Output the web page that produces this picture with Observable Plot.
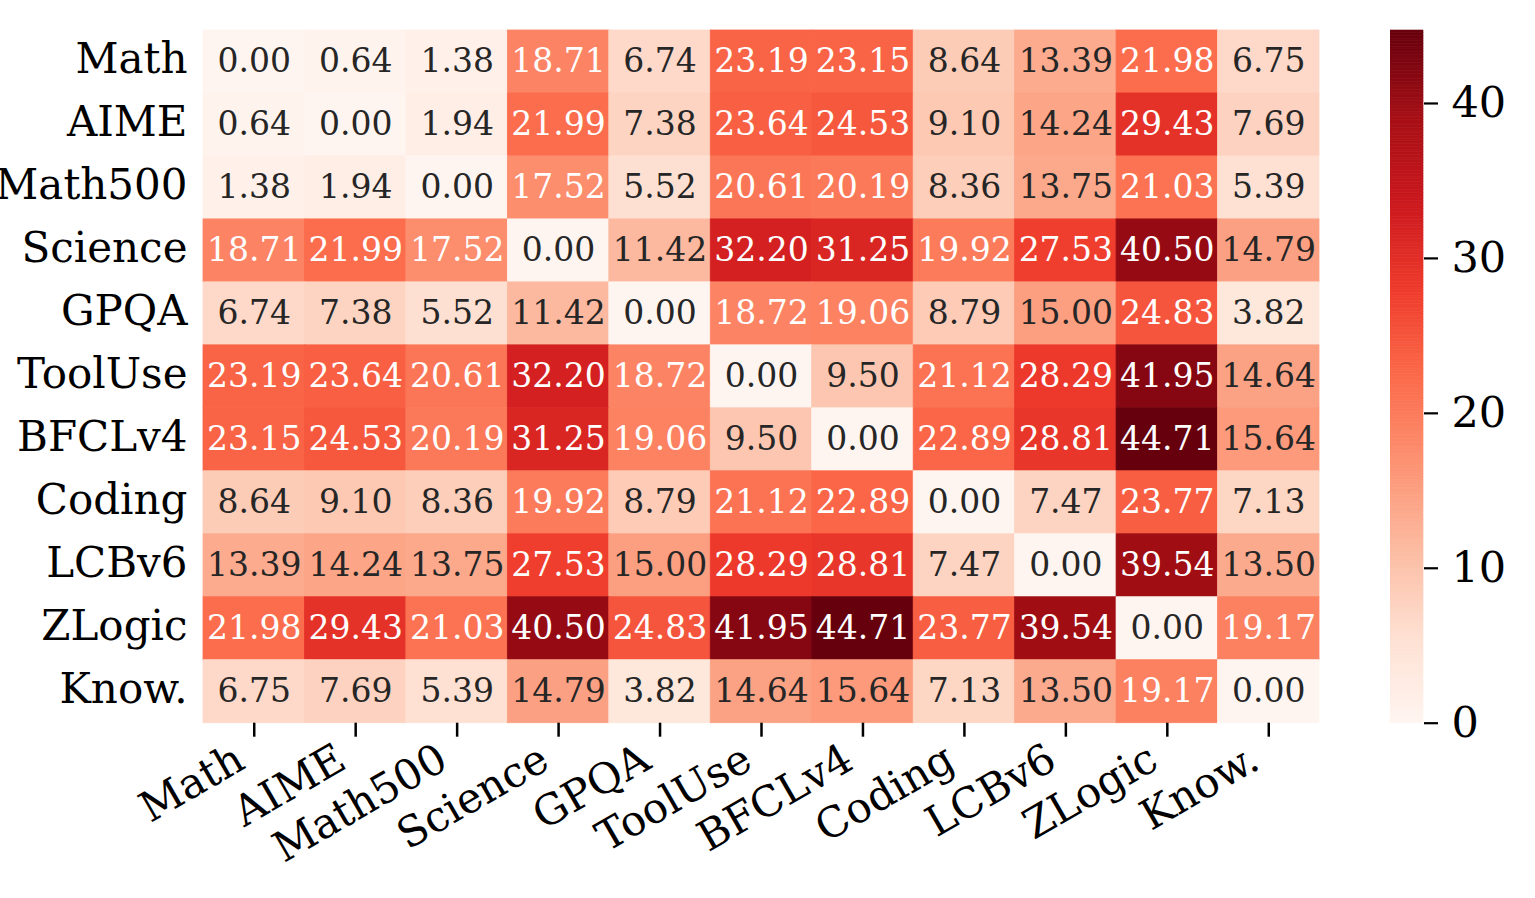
<!DOCTYPE html>
<html>
<head>
<meta charset="utf-8">
<script src="https://cdn.jsdelivr.net/npm/d3@7"></script>
<script src="https://cdn.jsdelivr.net/npm/@observablehq/plot@0.6"></script>
<style>
  body { margin: 0; background: #fff; }
  #wrap { position: relative; width: 1535px; height: 898px; overflow: hidden; }
  #heat, #cbar { position: absolute; top: 0; }
  #heat { left: 0; }
  #cbar { left: 1390px; }
</style>
</head>
<body>
<div id="wrap"><div id="heat"></div><div id="cbar"></div></div>
<script>
// ---- data ----
const categories = ["Math", "AIME", "Math500", "Science", "GPQA", "ToolUse", "BFCLv4", "Coding", "LCBv6", "ZLogic", "Know."];
const rowMath    = [0.00, 0.64, 1.38, 18.71, 6.74, 23.19, 23.15, 8.64, 13.39, 21.98, 6.75];
const rowAIME    = [0.64, 0.00, 1.94, 21.99, 7.38, 23.64, 24.53, 9.10, 14.24, 29.43, 7.69];
const rowMath500 = [1.38, 1.94, 0.00, 17.52, 5.52, 20.61, 20.19, 8.36, 13.75, 21.03, 5.39];
const rowScience = [18.71, 21.99, 17.52, 0.00, 11.42, 32.20, 31.25, 19.92, 27.53, 40.50, 14.79];
const rowGPQA    = [6.74, 7.38, 5.52, 11.42, 0.00, 18.72, 19.06, 8.79, 15.00, 24.83, 3.82];
const rowToolUse = [23.19, 23.64, 20.61, 32.20, 18.72, 0.00, 9.50, 21.12, 28.29, 41.95, 14.64];
const rowBFCLv4  = [23.15, 24.53, 20.19, 31.25, 19.06, 9.50, 0.00, 22.89, 28.81, 44.71, 15.64];
const rowCoding  = [8.64, 9.10, 8.36, 19.92, 8.79, 21.12, 22.89, 0.00, 7.47, 23.77, 7.13];
const rowLCBv6   = [13.39, 14.24, 13.75, 27.53, 15.00, 28.29, 28.81, 7.47, 0.00, 39.54, 13.50];
const rowZLogic  = [21.98, 29.43, 21.03, 40.50, 24.83, 41.95, 44.71, 23.77, 39.54, 0.00, 19.17];
const rowKnow    = [6.75, 7.69, 5.39, 14.79, 3.82, 14.64, 15.64, 7.13, 13.50, 19.17, 0.00];
const colorbarTicks = [0, 10, 20, 30, 40];

const matrix = [rowMath, rowAIME, rowMath500, rowScience, rowGPQA, rowToolUse, rowBFCLv4, rowCoding, rowLCBv6, rowZLogic, rowKnow];
const cells = [];
matrix.forEach((row, i) => row.forEach((v, j) => cells.push({row: categories[i], col: categories[j], value: v})));

const vmin = 0;
const vmax = d3.max(cells, d => d.value);

// matplotlib "Reds" (ColorBrewer 9-class, linear segments)
const reds = ["#fff5f0", "#fee0d2", "#fcbba1", "#fc9272", "#fb6a4a", "#ef3b2c", "#cb181d", "#a50f15", "#67000d"];
const stops = reds.map((_, i) => vmin + (vmax - vmin) * i / (reds.length - 1));
const colorScale = {type: "linear", domain: stops, range: reds, interpolate: "rgb"};

// float colormap with matplotlib-like 256-entry lookup, used to pick annotation colour
const redsFloat = reds.map(c => { const r = d3.rgb(c); return [r.r / 255, r.g / 255, r.b / 255]; });
const cmapFloat = d3.scaleLinear().domain(reds.map((_, i) => i / (reds.length - 1))).range(redsFloat).clamp(true);
function lutColor(v) {
  const x = (v - vmin) / (vmax - vmin);
  const idx = Math.min(255, Math.max(0, Math.floor(x * 256)));
  return cmapFloat(idx / 255);
}
function relLum(rgb) {
  const f = v => v <= 0.03928 ? v / 12.92 : Math.pow((v + 0.055) / 1.055, 2.4);
  return 0.2126 * f(rgb[0]) + 0.7152 * f(rgb[1]) + 0.0722 * f(rgb[2]);
}
const textColor = d => relLum(lutColor(d.value)) > 0.408 ? "#262626" : "#ffffff";

const FONT = "DejaVu Serif";
const frameTop = 30, frameBottom = 722.7, frameLeft = 203, frameRight = 1319;

const heat = Plot.plot({
  width: 1535,
  height: 898,
  marginLeft: frameLeft,
  marginRight: 1535 - frameRight,
  marginTop: frameTop,
  marginBottom: 898 - frameBottom,
  style: {fontFamily: FONT, background: "#fff", color: "#000"},
  x: {domain: categories, padding: 0, round: false, axis: null},
  y: {domain: categories, padding: 0, round: false, axis: null},
  color: colorScale,
  marks: [
    Plot.cell(cells, {x: "col", y: "row", fill: "value", stroke: "value", strokeWidth: 0.8, inset: 0}),
    Plot.text(cells, {x: "col", y: "row", text: d => d.value.toFixed(2), fill: textColor, fontSize: 33, fontFamily: FONT, dy: -0.5}),
    Plot.axisY({tickSize: 0, tickPadding: 16, fontSize: 42, fontFamily: FONT, label: null, dy: -2}),
    Plot.axisX({tickSize: 14, strokeWidth: 2.5, tickFormat: () => "", label: null}),
    Plot.text(categories, {x: d => d, frameAnchor: "bottom", rotate: -30, textAnchor: "end", lineAnchor: "bottom",
      dx: -7, dy: 44, fontSize: 42, fontFamily: FONT, fill: "#000"})
  ]
});
document.getElementById("heat").appendChild(heat);

const N = 256;
const slices = d3.range(N).map(i => ({y1: vmin + (vmax - vmin) * i / N, y2: vmin + (vmax - vmin) * (i + 1) / N}));

const cbar = Plot.plot({
  width: 145,
  height: 898,
  marginLeft: 0,
  marginRight: 112,
  marginTop: frameTop,
  marginBottom: 898 - frameBottom,
  style: {fontFamily: FONT, background: "transparent", color: "#000"},
  y: {domain: [vmin, vmax], axis: null},
  color: colorScale,
  marks: [
    Plot.rect(slices, {y1: "y1", y2: "y2", fill: d => (d.y1 + d.y2) / 2, stroke: d => (d.y1 + d.y2) / 2, strokeWidth: 0.6}),
    Plot.axisY({anchor: "right", ticks: colorbarTicks, tickSize: 14, tickPadding: 14, strokeWidth: 2.2,
      fontSize: 43, fontFamily: FONT, tickFormat: d => String(d), label: null})
  ]
});
document.getElementById("cbar").appendChild(cbar);
</script>
</body>
</html>
